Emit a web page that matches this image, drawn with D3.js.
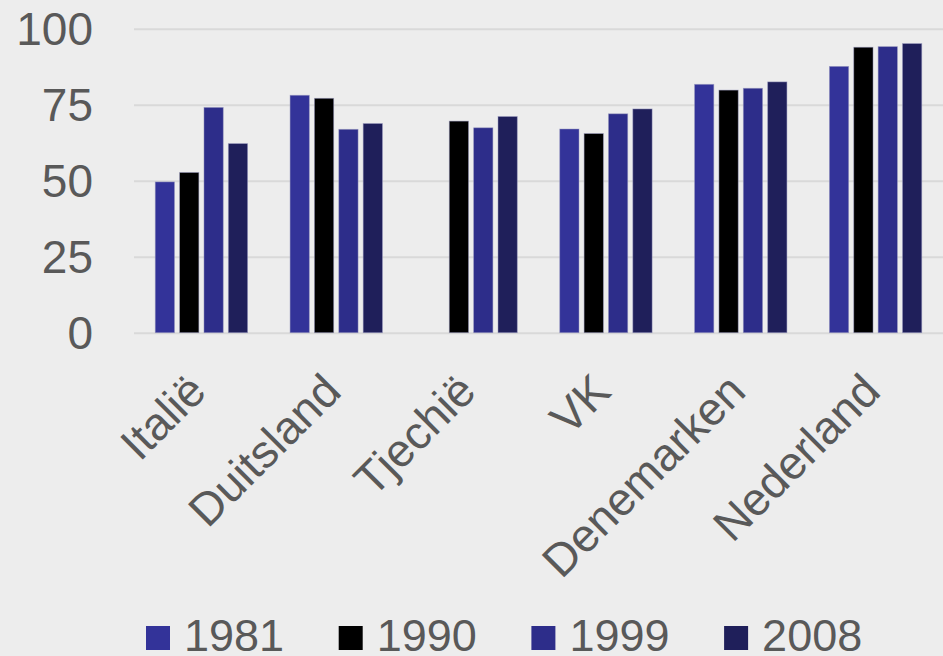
<!DOCTYPE html>
<html>
  <head>
    <title>Chart</title>
    <script src="https://d3js.org/d3.v7.min.js"></script>
    <style>
      body { margin: 0; background: #ededed; }
      svg { display: block; background: #ededed; }
      text { font-family: "Liberation Sans", Arial, Helvetica, sans-serif; fill: #595959; }
      .grid line { stroke: #d9d9d9; stroke-width: 2px; }
      .grid .domain { display: none; }
      .axis .domain, .axis line { display: none; }
    </style>
  </head>
  <body>
    <svg width="943" height="656"></svg>
    <script>
      const countries = ["Italië", "Duitsland", "Tjechië", "VK", "Denemarken", "Nederland"];
      const years = ["1981", "1990", "1999", "2008"];
      const colors = ["#333399", "#000000", "#2d2d8a", "#1f1f5a"];
      const v1981 = [49.6, 78.1, null, 67.0, 81.7, 87.6];
      const v1990 = [52.7, 77.1, 69.6, 65.5, 79.8, 93.9];
      const v1999 = [74.1, 66.9, 67.4, 72.0, 80.4, 94.1];
      const v2008 = [62.2, 68.8, 71.1, 73.6, 82.5, 95.1];
      const yTicks = [0, 25, 50, 75, 100];

      const series = [v1981, v1990, v1999, v2008];
      const data = countries.map((c, i) => ({
        country: c,
        values: years.map((yr, j) => ({ year: yr, color: colors[j], value: series[j][i] }))
      }));

      const svg = d3.select("svg");
      const plot = { left: 134, right: 943, top: 28.7, bottom: 332.7 };

      const x0 = d3.scaleBand()
        .domain(countries)
        .range([plot.left, plot.right])
        .paddingInner(0.315)
        .paddingOuter(0.1575);
      const x1 = d3.scaleBand()
        .domain(years)
        .range([0, x0.bandwidth()])
        .paddingInner(0.21);
      const y = d3.scaleLinear().domain([0, 100]).range([plot.bottom, plot.top]);

      // gridlines
      svg.append("g")
          .attr("class", "grid")
          .attr("transform", `translate(${plot.left},0)`)
          .call(d3.axisLeft(y).tickValues(yTicks).tickSize(-(plot.right - plot.left)).tickFormat(""));

      // y labels
      svg.append("g")
          .attr("class", "axis")
          .attr("transform", `translate(${plot.left},0)`)
          .call(d3.axisLeft(y).tickValues(yTicks).tickSize(0).tickPadding(41))
        .selectAll("text")
          .style("font-size", "46px")
          .attr("dy", "0.35em");

      // bars
      const groups = svg.append("g").selectAll("g")
        .data(data)
        .join("g")
          .attr("transform", d => `translate(${x0(d.country)},0)`);
      groups.selectAll("rect")
        .data(d => d.values.filter(v => v.value != null))
        .join("rect")
          .attr("x", d => x1(d.year))
          .attr("y", d => y(d.value))
          .attr("width", x1.bandwidth())
          .attr("height", d => y(0) - y(d.value))
          .attr("fill", d => d.color)
          .attr("stroke", "rgba(150,150,190,0.6)")
          .attr("stroke-width", 0.8);

      // x labels
      svg.append("g").selectAll("text")
        .data(countries)
        .join("text")
          .attr("transform", d => `translate(${x0(d) + x0.bandwidth() / 2 + 7},${plot.bottom + 61}) rotate(-45)`)
          .attr("text-anchor", "end")
          .style("font-size", "46px")
          .text(d => d);

      // legend
      const legend = svg.append("g").selectAll("g")
        .data(years)
        .join("g")
          .attr("transform", (d, i) => `translate(${146 + i * 192.7},626)`);
      legend.append("rect")
        .attr("width", 24)
        .attr("height", 24)
        .attr("fill", (d, i) => colors[i]);
      legend.append("text")
        .attr("x", 38)
        .attr("y", 25)
        .style("font-size", "45px")
        .text(d => d);
    </script>
  </body>
</html>
